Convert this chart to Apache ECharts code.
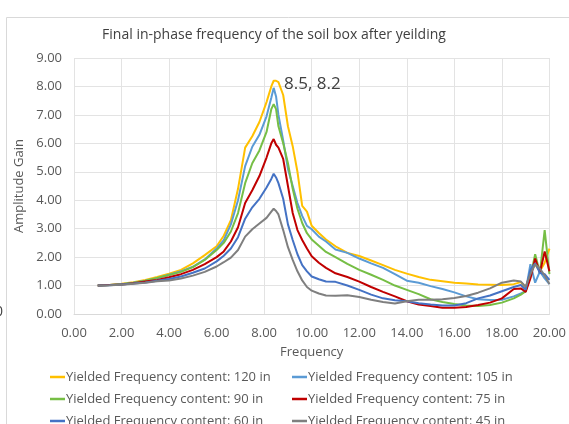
<!DOCTYPE html>
<html><head><meta charset="utf-8">
<script src="https://cdn.jsdelivr.net/npm/echarts@6/dist/echarts.min.js"></script>
<style>html,body{margin:0;padding:0;background:#fff;}#c{width:569px;height:424px;}</style>
</head><body><div id="c"></div>
<script>
const titleText = 'Final in-phase frequency of the soil box after yeilding';
const xName = 'Frequency';
const yName = 'Amplitude Gain';
const seriesNames = ['Yielded Frequency content: 120 in','Yielded Frequency content: 105 in','Yielded Frequency content: 90 in','Yielded Frequency content: 75 in','Yielded Frequency content: 60 in','Yielded Frequency content: 45 in'];
const freq = [1,1.5,2,2.5,3,3.5,4,4.5,5,5.5,6,6.3,6.6,6.9,7.2,7.5,7.8,8.1,8.3,8.4,8.5,8.6,8.8,9.0,9.2,9.4,9.6,9.8,10.0,10.3,10.6,11,11.5,12,12.5,13,13.5,14,14.5,15,15.5,16,16.5,17,17.5,18,18.5,18.8,19.0,19.2,19.4,19.6,19.8,20];
const gain120 = [1.0,1.02,1.06,1.12,1.2,1.3,1.42,1.55,1.78,2.07,
 2.38,2.75,3.3,4.4,5.85,6.25,6.75,7.45,8.0,8.2,
 8.2,8.15,7.7,6.6,5.9,5.0,3.8,3.6,3.1,2.85,
 2.62,2.38,2.15,2.04,1.88,1.72,1.55,1.42,1.3,1.2,
 1.15,1.1,1.07,1.04,1.03,1.02,1.05,1.12,0.92,1.45,
 1.75,1.5,1.8,2.3];
const gain105 = [1.0,1.02,1.05,1.1,1.17,1.26,1.38,1.5,1.66,1.92,
 2.3,2.6,3.15,4.0,5.2,5.88,6.3,6.95,7.6,7.95,
 7.65,7.0,6.1,5.1,4.5,3.9,3.45,3.1,2.98,2.72,
 2.55,2.27,2.15,1.95,1.78,1.62,1.4,1.17,1.1,0.98,
 0.88,0.76,0.62,0.52,0.49,0.5,0.62,0.72,0.8,1.75,
 1.1,1.5,1.25,1.05];
const gain90 = [1.0,1.02,1.05,1.1,1.17,1.27,1.37,1.48,1.65,1.9,
 2.25,2.5,2.9,3.55,4.6,5.3,5.75,6.4,7.2,7.38,
 7.2,6.6,6.0,5.3,4.4,3.7,3.2,2.84,2.62,2.4,
 2.18,2.0,1.76,1.55,1.38,1.2,1.0,0.85,0.7,0.52,
 0.42,0.35,0.3,0.28,0.32,0.4,0.55,0.68,0.8,1.3,
 2.1,1.45,2.95,1.4];
const gain75 = [1.0,1.02,1.04,1.08,1.14,1.2,1.29,1.4,1.55,1.75,
 2.0,2.2,2.55,3.05,3.9,4.35,4.85,5.5,6.0,6.15,
 5.95,5.85,5.45,4.5,3.55,2.95,2.6,2.3,2.03,1.8,
 1.62,1.43,1.3,1.14,0.95,0.78,0.62,0.45,0.33,0.28,
 0.22,0.22,0.25,0.32,0.4,0.55,0.88,0.9,0.78,1.25,
 1.95,1.45,2.2,1.5];
const gain60 = [1.0,1.01,1.04,1.07,1.11,1.17,1.23,1.32,1.45,1.6,
 1.85,2.05,2.3,2.7,3.35,3.75,4.05,4.45,4.75,4.93,
 4.8,4.6,4.05,3.15,2.6,2.1,1.72,1.5,1.32,1.22,
 1.14,1.13,1.0,0.85,0.68,0.55,0.48,0.45,0.38,0.33,
 0.3,0.3,0.38,0.55,0.65,0.8,0.95,1.02,0.85,1.55,
 1.78,1.45,1.4,1.2];
const gain45 = [1.0,1.01,1.03,1.06,1.1,1.15,1.18,1.25,1.35,1.48,
 1.67,1.82,1.98,2.25,2.72,2.98,3.18,3.38,3.6,3.7,
 3.62,3.5,2.95,2.35,1.9,1.5,1.18,0.95,0.82,0.72,
 0.65,0.64,0.66,0.6,0.5,0.42,0.37,0.45,0.5,0.5,
 0.52,0.56,0.63,0.75,0.9,1.1,1.18,1.14,0.96,1.4,
 1.75,1.6,1.35,1.05];
const peakFreq = 8.5, peakGain = 8.2;
const colors = ['#FFC000','#5B9BD5','#76BE45','#C00000','#4472C4','#7F7F7F'];

const allGains = [gain120,gain105,gain90,gain75,gain60,gain45];
const FONT = '"Open Sans", sans-serif';
const chart = echarts.init(document.getElementById('c'), null, {renderer:'canvas'});
const series = allGains.map((g,i)=>{
  const s = {
    name: seriesNames[i], type:'line', showSymbol:false, symbol:'none', smooth:false,
    lineStyle:{width:2, color:colors[i]}, itemStyle:{color:colors[i]},
    z: 2+i,
    data: freq.map((f,j)=>[f,g[j]])
  };
  if (i===0) {
    s.markPoint = {
      symbol:'circle', symbolSize:0, silent:true,
      label:{show:true, position:'right', distance:6, offset:[2,3], formatter: peakFreq + ', ' + peakGain,
        fontSize:17, color:'#404040', fontFamily:FONT},
      data:[{coord:[peakFreq, peakGain]}]
    };
  }
  return s;
});
chart.setOption({
  animation:false,
  color: colors,
  title:{text:titleText, left:269, top:23, textAlign:'center',
    textStyle:{fontSize:14, fontWeight:'normal', color:'#404040', fontFamily:FONT}},
  grid:{left:74, right:10, top:58, bottom:110, containLabel:false},
  xAxis:{type:'value', min:0, max:20, interval:2, name:xName, nameLocation:'middle', nameGap:32,
    nameTextStyle:{fontSize:13, color:'#595959', fontFamily:FONT},
    axisLine:{show:true, lineStyle:{color:'#d9d9d9'}}, axisTick:{show:false},
    axisLabel:{formatter:v=>v.toFixed(2), fontSize:13, color:'#595959', margin:13, fontFamily:FONT},
    splitLine:{show:true, lineStyle:{color:'#e3e3e3', width:1}}},
  yAxis:{type:'value', min:0, max:9, interval:1, name:yName, nameLocation:'middle', nameGap:42,
    nameTextStyle:{fontSize:13, color:'#595959', fontFamily:FONT},
    axisLine:{show:false}, axisTick:{show:false},
    axisLabel:{formatter:v=>v.toFixed(2), fontSize:13, color:'#595959', margin:12, fontFamily:FONT},
    splitLine:{show:true, lineStyle:{color:'#e3e3e3', width:1}}},
  legend:{left:50, top:366, width:520, orient:'horizontal', itemGap:0, itemWidth:15, itemHeight:2.5,
    icon:'rect', padding:0,
    textStyle:{fontSize:13, color:'#595959', width:226, lineHeight:22, padding:[0,0,0,-4], fontFamily:FONT},
    data: seriesNames},
  graphic:[
    {type:'rect', shape:{x:6.5, y:17.5, width:700, height:600}, style:{fill:'none', stroke:'#d9d9d9', lineWidth:1}, silent:true, z:-10},
    {type:'text', x:-5, y:305, style:{text:'0', fontSize:14, fill:'#404040', fontFamily:FONT}, silent:true}
  ],
  series: series
});
</script></body></html>
